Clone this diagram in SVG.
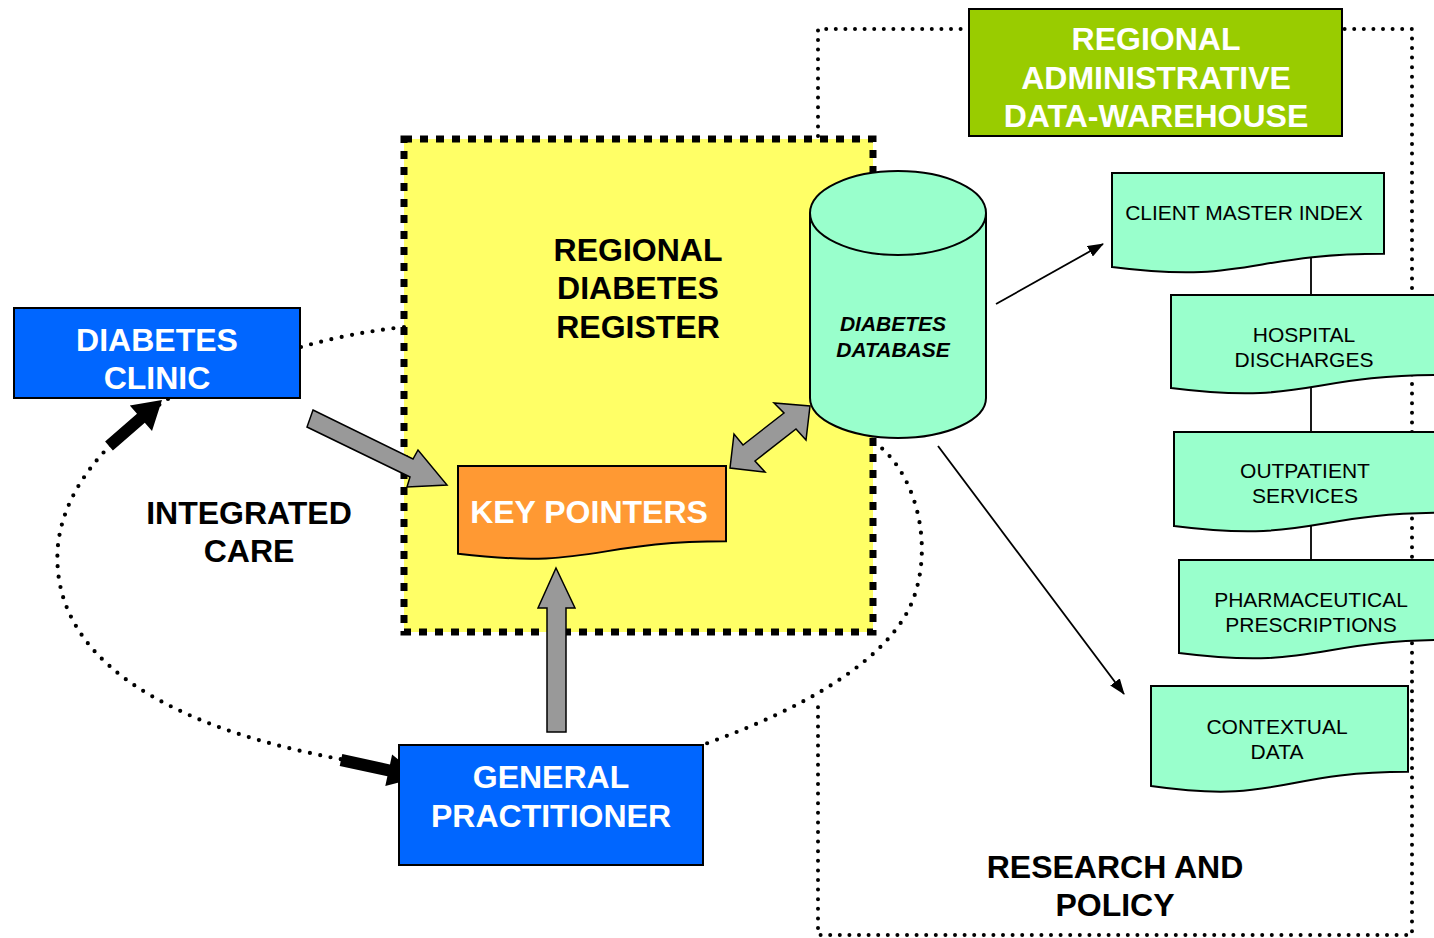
<svg xmlns="http://www.w3.org/2000/svg" width="1434" height="938" viewBox="0 0 1434 938">
<defs>
<style>
.bold{font-family:"Liberation Sans",Arial,sans-serif;font-weight:bold;font-size:32px;text-anchor:middle}
.white{fill:#ffffff}
.black{fill:#000000}
.doc{font-family:"Liberation Sans",Arial,sans-serif;font-size:21px;text-anchor:middle;fill:#000}
.dbt{font-family:"Liberation Sans",Arial,sans-serif;font-size:21px;font-weight:bold;font-style:italic;text-anchor:middle;fill:#000}
.mint{fill:#99FFCC;stroke:#000;stroke-width:2}
.blue{fill:#0066FF;stroke:#000;stroke-width:2}
.dots{fill:none;stroke:#000;stroke-width:4.2;stroke-linecap:round;stroke-dasharray:0 10.5}
.sdots{fill:none;stroke:#000;stroke-width:4;stroke-linecap:round;stroke-dasharray:0 9.6}
.garrow{fill:#999999;stroke:#000;stroke-width:1.5;stroke-linejoin:miter}
.thin{fill:none;stroke:#000;stroke-width:1.8}
</style>
<marker id="ah" viewBox="0 0 16 12" refX="15" refY="6" markerWidth="16" markerHeight="12" markerUnits="userSpaceOnUse" orient="auto">
<path d="M0,0 L16,6 L0,12 Z" fill="#000"/>
</marker>
</defs>
<rect width="1434" height="938" fill="#ffffff"/>

<g id="research-policy">
<path class="sdots" d="M818,136 V29 H1412 V935 H818 V698"/>
<text class="bold black" x="1115" y="878">RESEARCH AND</text>
<text class="bold black" x="1115" y="916">POLICY</text>
</g>

<g id="regional-diabetes-register">
<rect x="404" y="139" width="469" height="493" fill="#FFFF66"/>
<rect x="404" y="139" width="469" height="493" fill="none" stroke="#000" stroke-width="7" stroke-dasharray="8 8"/>
<text class="bold black" x="638" y="261">REGIONAL</text>
<text class="bold black" x="638" y="299">DIABETES</text>
<text class="bold black" x="638" y="338">REGISTER</text>
</g>

<g id="connectors">
<path class="dots" d="M301,347 Q350,333 404,327"/>
<path class="dots" d="M168,399 C120,430 65,480 58,545 C52,610 90,660 150,695 C210,730 280,748 345,760"/>
<path class="dots" d="M874,442 C914,470 934,540 914,597 C892,660 800,710 705,744"/>
<line x1="1311" y1="250" x2="1311" y2="562" stroke="#000" stroke-width="1.8"/>
<line class="thin" x1="996" y1="304" x2="1103" y2="244" marker-end="url(#ah)"/>
<line class="thin" x1="938" y1="446" x2="1124" y2="694" marker-end="url(#ah)"/>
<polygon class="garrow" points="313,410 413,459 418,450 447,485 407,487 410,477 307,427"/>
<polygon class="garrow" points="730,468 734,434 743,445 784,413 774,403 810,406 806,440 796,429 755,461 765,472"/>
<polygon class="garrow" points="556,568 575,608 566,608 566,732 547,732 547,608 538,608"/>
<polygon fill="#000" points="162,400 152,431.1 144.8,422.8 112.9,450.5 105.1,441.5 137,413.8 129.8,405.5"/>
<polygon fill="#000" points="420,777 385.3,785.9 387.4,776.2 339.7,765.9 342.3,754.1 390,764.4 392.1,754.6"/>
</g>

<g id="warehouse">
<rect x="969" y="9" width="373" height="127" fill="#99CC00" stroke="#000" stroke-width="2"/>
<text class="bold white" x="1156" y="50">REGIONAL</text>
<text class="bold white" x="1156" y="89">ADMINISTRATIVE</text>
<text class="bold white" x="1156" y="127">DATA-WAREHOUSE</text>
</g>

<g id="diabetes-clinic">
<rect class="blue" x="14" y="308" width="286" height="90"/>
<text class="bold white" x="157" y="351">DIABETES</text>
<text class="bold white" x="157" y="389">CLINIC</text>
</g>

<g id="general-practitioner">
<rect class="blue" x="399" y="745" width="304" height="120"/>
<text class="bold white" x="551" y="788">GENERAL</text>
<text class="bold white" x="551" y="827">PRACTITIONER</text>
</g>

<g id="key-pointers">
<path d="M458,466 H726 V541.3 C592,541.3 592,570 458,553.7 Z" fill="#FF9933" stroke="#000" stroke-width="2"/>
<text class="bold white" x="589" y="523">KEY POINTERS</text>
</g>

<g id="diabetes-database">
<path d="M810,213 V398 A88,40 0 0 0 986,398 V213" class="mint"/>
<ellipse cx="898" cy="213" rx="88" ry="42" class="mint"/>
<text class="dbt" x="893" y="331">DIABETES</text>
<text class="dbt" x="893" y="357">DATABASE</text>
</g>

<g id="client-master-index">
<path class="mint" d="M1112,173 H1384 V253.7 C1248,253.7 1248,284.4 1112,267 Z"/>
<text class="doc" x="1244" y="220">CLIENT MASTER INDEX</text>
</g>

<g id="hospital-discharges">
<path class="mint" d="M1171,295 H1443 V374.9 C1307,374.9 1307,405.3 1171,388 Z"/>
<text class="doc" x="1304" y="342">HOSPITAL</text>
<text class="doc" x="1304" y="367">DISCHARGES</text>
</g>

<g id="outpatient-services">
<path class="mint" d="M1174,432 H1446 V512.7 C1310,512.7 1310,543.4 1174,526 Z"/>
<text class="doc" x="1305" y="478">OUTPATIENT</text>
<text class="doc" x="1305" y="503">SERVICES</text>
</g>

<g id="pharmaceutical-prescriptions">
<path class="mint" d="M1179,560 H1451 V639.9 C1315,639.9 1315,670.3 1179,653 Z"/>
<text class="doc" x="1311" y="607">PHARMACEUTICAL</text>
<text class="doc" x="1311" y="632">PRESCRIPTIONS</text>
</g>

<g id="contextual-data">
<path class="mint" d="M1151,686 H1408 V771.8 C1279.5,771.8 1279.5,804.5 1151,786 Z"/>
<text class="doc" x="1277" y="734">CONTEXTUAL</text>
<text class="doc" x="1277" y="759">DATA</text>
</g>

<g id="integrated-care">
<text class="bold black" x="249" y="524">INTEGRATED</text>
<text class="bold black" x="249" y="562">CARE</text>
</g>
</svg>
